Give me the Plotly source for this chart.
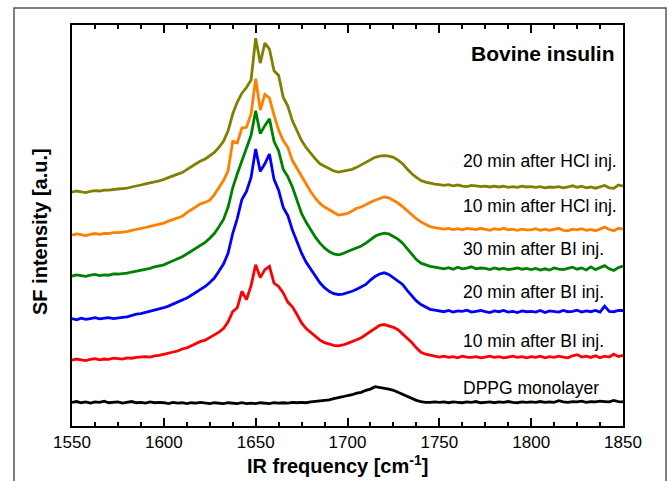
import plotly.graph_objects as go

# IR frequency grid (cm^-1)
freq = [1550, 1552.5, 1555, 1557.5, 1560, 1562.5, 1565, 1567.5, 1570, 1572.5,
        1575, 1577.5, 1580, 1582.5, 1585, 1587.5, 1590, 1592.5, 1595, 1597.5,
        1600, 1602.5, 1605, 1607.5, 1610, 1612.5, 1615, 1617.5, 1620, 1622.5,
        1625, 1627.5, 1630, 1632.5, 1635, 1637.5, 1640, 1642.5, 1645, 1647.5,
        1650, 1652.5, 1655, 1657.5, 1660, 1662.5, 1665, 1667.5, 1670, 1672.5,
        1675, 1677.5, 1680, 1682.5, 1685, 1687.5, 1690, 1692.5, 1695, 1697.5,
        1700, 1702.5, 1705, 1707.5, 1710, 1712.5, 1715, 1717.5, 1720, 1722.5,
        1725, 1727.5, 1730, 1732.5, 1735, 1737.5, 1740, 1742.5, 1745, 1747.5,
        1750, 1752.5, 1755, 1757.5, 1760, 1762.5, 1765, 1767.5, 1770, 1772.5,
        1775, 1777.5, 1780, 1782.5, 1785, 1787.5, 1790, 1792.5, 1795, 1797.5,
        1800, 1802.5, 1805, 1807.5, 1810, 1812.5, 1815, 1817.5, 1820, 1822.5,
        1825, 1827.5, 1830, 1832.5, 1835, 1837.5, 1840, 1842.5, 1845, 1847.5,
        1850]

# SF intensity (a.u., vertically offset spectra)
dppg = [5.9, 6.1, 5.8, 6.0, 5.7, 6.0, 5.9, 6.2, 5.8, 5.9, 6.0, 5.7, 5.9, 6.1, 5.8, 5.9, 5.7, 6.0, 5.8, 5.9,
        5.8, 5.6, 5.9, 5.7, 5.8, 5.6, 5.8, 5.7, 5.9, 5.7, 5.6, 5.8, 5.7, 5.6, 5.8, 5.7, 5.6, 5.8, 5.6, 5.7,
        5.6, 5.8, 5.7, 5.6, 5.8, 5.7, 5.8, 5.7, 5.9, 5.8, 5.9, 5.8, 6.0, 6.1, 6.2, 6.3, 6.5, 6.8, 7.0, 7.3,
        7.6, 7.8, 8.2, 8.4, 8.9, 9.2, 9.8, 9.6, 9.5, 9.2, 8.9, 8.4, 7.9, 7.3, 6.9, 6.4, 6.1, 5.9, 5.9, 6.0,
        5.9, 6.0, 5.8, 6.0, 5.9, 5.8, 6.0, 5.9, 6.1, 5.8, 5.9, 6.0, 5.8, 6.0, 5.9, 6.1, 5.9, 5.8, 6.0, 5.9,
        6.0, 5.9, 6.1, 5.9, 6.0, 5.9, 6.3, 6.0, 5.9, 6.1, 6.0, 6.2, 5.9, 6.1, 6.0, 6.2, 6.1, 6.0, 6.4, 6.1,
        6.0]
bi10 = [16.4, 16.7, 16.5, 16.3, 16.6, 16.8, 16.5, 16.7, 16.6, 16.9, 16.8, 16.7, 17.0, 16.9, 17.1, 17.2, 17.3, 17.2, 17.5, 17.6,
        17.9, 18.1, 18.4, 18.7, 19.2, 19.5, 20.0, 20.6, 21.1, 21.4, 22.0, 22.6, 23.4, 24.3, 26.0, 28.5, 29.5, 33.6, 31.5, 35.0,
        40.2, 37.0, 39.0, 39.8, 35.6, 34.8, 33.2, 30.9, 29.7, 27.8, 25.7, 24.3, 23.3, 22.2, 21.4, 20.8, 20.5, 20.1, 20.0, 20.2,
        20.6, 21.0, 21.5, 22.0, 22.8, 23.7, 24.5, 25.1, 25.3, 25.0, 24.6, 24.0, 23.0, 22.0, 20.8, 19.5, 18.4, 17.9, 17.6, 17.4,
        17.2, 17.4, 17.1, 17.3, 17.0, 17.4, 17.2, 17.1, 17.3, 17.0, 17.2, 17.4, 17.1, 17.3, 17.0, 17.2, 17.4, 17.1, 17.3, 17.0,
        17.3, 17.1, 17.4, 17.0, 17.3, 17.1, 17.4, 17.2, 17.0, 17.5, 17.8, 17.2, 17.4, 17.1, 17.5, 17.0, 17.4, 17.2, 17.9, 17.3,
        17.6]
bi20 = [26.8, 26.5, 26.9, 26.6, 26.8, 27.0, 26.7, 26.9, 27.0, 26.8, 27.0, 27.1, 27.2, 27.5, 27.9, 28.0, 28.3, 28.5, 28.9, 29.1,
        29.5, 29.9, 30.4, 30.8, 31.2, 31.9, 32.6, 33.3, 34.1, 34.8, 35.8, 36.9, 38.6, 40.4, 43.1, 48.0, 51.8, 56.5, 58.5, 62.0,
        69.1, 63.5, 65.4, 67.8, 61.5, 58.8, 54.5, 52.5, 48.9, 45.8, 43.1, 40.8, 39.0, 37.2, 35.7, 34.5, 33.6, 33.0, 32.8, 32.9,
        33.2, 33.6, 34.1, 34.6, 35.3, 36.4, 37.3, 37.9, 38.2, 37.8, 36.9, 36.2, 35.3, 33.8, 32.4, 31.2, 30.3, 29.6, 29.1, 28.9,
        28.7, 28.5, 28.8, 28.4, 28.7, 28.6, 28.9, 28.4, 28.6, 28.8, 28.5, 28.3, 28.7, 28.5, 28.8, 28.4, 28.6, 28.3, 28.7, 28.5,
        28.6, 28.4, 28.8, 28.3, 28.7, 28.5, 28.4, 28.8, 28.5, 28.6, 28.9, 28.4, 28.7, 28.5, 28.8, 28.4, 29.9, 28.6, 28.5, 28.8,
        28.8]
bi30 = [37.4, 37.7, 37.5, 37.3, 37.6, 37.8, 37.5, 37.7, 37.6, 37.9, 37.9, 38.0, 38.1, 38.4, 38.6, 38.8, 39.0, 39.3, 39.7, 39.9,
        40.2, 40.7, 41.2, 41.7, 42.2, 42.9, 43.6, 44.3, 45.1, 45.8, 46.8, 48.0, 49.7, 51.5, 54.6, 59.4, 62.9, 66.2, 69.5, 72.5,
        78.6, 72.9, 74.9, 76.6, 71.0, 68.6, 64.0, 62.2, 59.6, 56.4, 53.0, 50.8, 48.9, 47.1, 45.6, 44.4, 43.5, 42.9, 42.7, 43.0,
        43.5, 43.9, 44.4, 44.9, 45.6, 46.5, 47.3, 47.8, 48.1, 47.9, 47.3, 46.6, 45.6, 44.2, 42.7, 41.5, 40.6, 40.1, 39.8, 39.6,
        39.4, 39.2, 39.5, 39.1, 39.6, 39.2, 39.4, 39.7, 39.2, 39.4, 39.3, 39.0, 39.4, 39.1, 39.3, 39.0, 39.2, 39.4, 39.1, 39.3,
        39.0, 39.3, 38.9, 39.2, 38.9, 39.4, 39.1, 39.0, 39.3, 39.6, 39.1, 39.4, 38.9, 39.7, 39.0, 39.5, 40.0, 39.2, 38.8, 39.5,
        39.9]
hcl10 = [47.6, 47.9, 47.7, 47.5, 47.8, 48.0, 47.8, 48.0, 48.0, 48.2, 48.2, 48.3, 48.5, 48.8, 49.0, 49.2, 49.5, 49.8, 50.1, 50.3,
         50.6, 51.1, 51.5, 51.9, 52.3, 53.2, 54.0, 54.6, 55.4, 55.8, 56.3, 57.7, 59.6, 61.2, 63.7, 71.0, 70.6, 74.3, 74.5, 77.8,
         86.6, 78.8, 82.7, 81.8, 77.5, 73.8, 71.2, 69.5, 66.2, 64.2, 62.1, 60.2, 58.4, 56.8, 55.5, 54.6, 53.9, 53.2, 52.6, 52.8,
         53.0, 53.6, 54.3, 54.6, 55.1, 55.8, 56.3, 56.8, 57.1, 56.9, 56.3, 55.6, 54.7, 53.7, 52.6, 51.7, 50.9, 50.2, 49.7, 49.5,
         49.3, 49.1, 49.3, 49.0, 49.2, 48.9, 49.3, 49.1, 49.0, 49.3, 49.1, 48.8, 49.2, 49.0, 49.3, 48.9, 49.1, 48.8, 49.1, 48.9,
         48.9, 49.2, 48.8, 49.1, 48.8, 49.0, 49.3, 48.8, 48.7, 49.1, 48.9, 49.2, 48.8, 49.0, 48.7, 49.1, 49.6, 49.0, 48.7, 49.3,
         49.1]
hcl20 = [58.3, 58.6, 58.4, 58.2, 58.5, 58.7, 58.6, 58.8, 58.8, 59.0, 59.1, 59.2, 59.3, 59.6, 59.8, 60.1, 60.4, 60.6, 60.8, 61.1,
         61.5, 62.0, 62.4, 62.8, 63.2, 64.0, 64.8, 65.4, 66.1, 66.6, 67.4, 68.2, 69.5, 71.0, 73.6, 77.8, 80.8, 83.0, 84.4, 86.3,
         96.7, 90.5, 95.5, 94.0, 88.6, 87.4, 82.0, 79.8, 76.1, 73.5, 71.2, 69.4, 67.9, 66.6, 65.4, 64.8, 64.1, 63.6, 63.3, 63.5,
         63.7, 64.0, 64.5, 65.1, 65.8, 66.4, 67.0, 67.3, 67.4, 67.3, 67.0, 66.3, 65.4, 64.1, 62.9, 62.0, 61.2, 60.8, 60.5, 60.3,
         60.2, 60.0, 60.2, 59.9, 60.1, 59.8, 59.7, 60.0, 59.9, 59.7, 59.8, 59.6, 59.8, 59.6, 59.8, 59.5, 59.7, 59.5, 59.8, 59.6,
         59.7, 59.5, 59.7, 59.4, 59.6, 59.5, 59.7, 59.4, 59.6, 59.9, 59.5, 59.8, 59.4, 59.6, 59.3, 59.7, 60.0, 59.4, 59.3, 60.1,
         59.8]

series = [
    ("DPPG monolayer", dppg, "#000000", 9.6),
    ("10 min after BI inj.", bi10, "#ff0000", 21.2),
    ("20 min after BI inj.", bi20, "#0000ff", 33.3),
    ("30 min after BI inj.", bi30, "#008000", 44.1),
    ("10 min after HCl inj.", hcl10, "#ff8000", 54.8),
    ("20 min after HCl inj.", hcl20, "#808000", 66.2),
]

x_ticks = [1550, 1600, 1650, 1700, 1750, 1800, 1850]

W, H = 669, 481
L, R, T, B = 72, 46, 25, 55
pw, ph = W - L - R, H - T - B


def px(xp):
    return (xp - L) / pw


def py(yp):
    return (H - B - yp) / ph


FONT = "Liberation Sans, Arial"

fig = go.Figure()
for name, ys, col, ly in series:
    fig.add_trace(go.Scatter(x=freq, y=ys, mode="lines", name=name,
                             line=dict(color=col, width=2.8)))

annotations = []
for name, ys, col, ly in series:
    annotations.append(dict(x=1762, y=ly, xref="x", yref="y", text=name, showarrow=False,
                            xanchor="left", yanchor="middle",
                            font=dict(family=FONT, size=17.5, color="black")))
annotations.append(dict(x=1847, y=93, xref="x", yref="y", text="<b>Bovine insulin</b>", showarrow=False,
                        xanchor="right", yanchor="middle",
                        font=dict(family=FONT, size=21, color="black")))
annotations.append(dict(x=px(337), y=py(479), xref="paper", yref="paper",
                        text="<b>IR frequency [cm<sup>-1</sup>]</b>", showarrow=False,
                        xanchor="center", yanchor="bottom",
                        font=dict(family=FONT, size=20, color="black")))
annotations.append(dict(x=px(40), y=py(232), xref="paper", yref="paper",
                        text="<b>SF intensity [a.u.]</b>", showarrow=False, textangle=-90,
                        xanchor="center", yanchor="middle",
                        font=dict(family=FONT, size=20, color="black")))

fig.update_layout(
    width=W, height=H,
    margin=dict(l=L, r=R, t=T, b=B),
    paper_bgcolor="white", plot_bgcolor="white",
    showlegend=False,
    annotations=annotations,
    shapes=[dict(type="rect", xref="paper", yref="paper", x0=px(14), x1=px(666), y0=py(500), y1=py(8),
                 line=dict(color="#555555", width=1.5), layer="below")],
)
fig.update_xaxes(range=[1550, 1850], tickvals=x_ticks, ticktext=[str(v) for v in x_ticks],
                 ticks="inside", ticklen=8, tickwidth=1.5, tickcolor="black",
                 minor=dict(dtick=12.5, tick0=1550, ticks="inside", ticklen=4, tickwidth=1.5, tickcolor="black"),
                 showline=True, linecolor="black", linewidth=1.5, mirror="ticks",
                 showgrid=False, zeroline=False,
                 tickfont=dict(family=FONT, size=17, color="black"))
fig.update_yaxes(range=[0, 100], showticklabels=False, ticks="",
                 showline=True, linecolor="black", linewidth=1.5, mirror=True,
                 showgrid=False, zeroline=False)

fig.write_html("out.html", config={"displayModeBar": False},
               post_script="document.body.style.margin='0';document.body.style.overflow='hidden';")
